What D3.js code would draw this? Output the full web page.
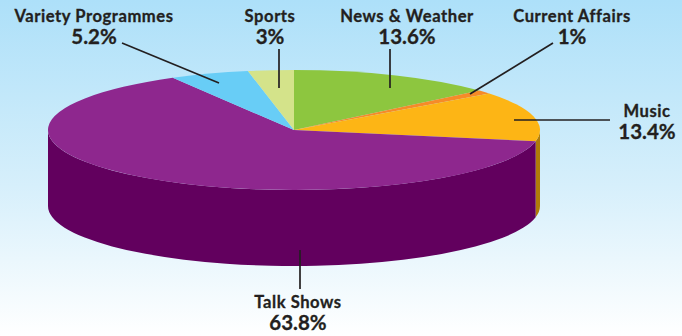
<!DOCTYPE html>
<html>
<head>
<meta charset="utf-8">
<script src="https://cdn.jsdelivr.net/npm/d3@7"></script>
<style>
html,body{margin:0;padding:0;background:#fff}
svg{display:block}
text{font-family:Lato,"Open Sans",sans-serif;fill:#231f20;text-anchor:middle;stroke:#231f20;stroke-width:.3px}
.name{font-size:16.6px;font-weight:700;letter-spacing:.55px}
.share{font-size:20.5px;font-weight:700;letter-spacing:0}
</style>
</head>
<body>
<svg id="chart" width="682" height="336"></svg>
<script>
// Programme categories and their share of airtime, clockwise from twelve o'clock
const categories = ["News & Weather", "Current Affairs", "Music", "Talk Shows", "Variety Programmes", "Sports"];
const shares = [13.6, 1, 13.4, 63.8, 5.2, 3];
const shareLabels = ["13.6%", "1%", "13.4%", "63.8%", "5.2%", "3%"];

const topColours = ["#8dc63f", "#f68b28", "#fdb515", "#8e278e", "#68cdf6", "#d4e38a"];
const wallColours = ["#5f7f22", "#a85a12", "#b07c0a", "#62005e", "#3d8fb0", "#98a55a"];

// Label centres and leader segments, one row per category
const labelX = [407, 572, 647, 298, 94, 270];
const labelY = [22, 22, 117, 308, 22, 22];
const leaders = [
  [390, 49, 390, 88],
  [553, 43, 470, 94],
  [610, 120, 514, 120],
  [300, 289, 300, 250],
  [122, 43, 219, 83],
  [279, 49, 279, 88]
];

const cx = 294, cy = 130, rx = 246, ry = 60, depth = 76;

const svg = d3.select("#chart");

const grad = svg.append("defs").append("linearGradient")
  .attr("id", "sky").attr("x1", 0).attr("x2", 0).attr("y1", 0).attr("y2", 1);
grad.append("stop").attr("offset", "0").attr("stop-color", "#ade0f9");
grad.append("stop").attr("offset", "0.55").attr("stop-color", "#d6effb");
grad.append("stop").attr("offset", "1").attr("stop-color", "#ffffff");
svg.append("rect").attr("width", 682).attr("height", 336).attr("fill", "url(#sky)");

const slices = d3.pie().sort(null).value(d => d)(shares);

// Point on the tilted rim, angle measured clockwise from the top
const rim = (a, drop = 0) => [cx + rx * Math.sin(a), cy - ry * Math.cos(a) + drop];

// Outer wall of a slice, limited to the half of the rim that faces the viewer
function wallPath(s) {
  const a0 = Math.max(s.startAngle, Math.PI / 2);
  const a1 = Math.min(s.endAngle, Math.PI * 1.5);
  if (a1 <= a0) return null;
  const [x0, y0] = rim(a0);
  const [x1, y1] = rim(a1);
  const [x2, y2] = rim(a1, depth);
  const [x3, y3] = rim(a0, depth);
  const large = a1 - a0 > Math.PI ? 1 : 0;
  return `M${x0},${y0}A${rx},${ry} 0 ${large} 1 ${x1},${y1}` +
         `L${x2},${y2}A${rx},${ry} 0 ${large} 0 ${x3},${y3}Z`;
}

svg.append("g").selectAll("path")
  .data(slices.filter(s => wallPath(s)))
  .join("path")
  .attr("d", wallPath)
  .attr("fill", s => wallColours[s.index]);

// Top face: a flat pie squashed vertically into an ellipse
const arc = d3.arc().innerRadius(0).outerRadius(rx);
svg.append("g")
  .attr("transform", `translate(${cx},${cy}) scale(1,${ry / rx})`)
  .selectAll("path")
  .data(slices)
  .join("path")
  .attr("d", arc)
  .attr("fill", s => topColours[s.index]);

svg.append("g").selectAll("line")
  .data(leaders)
  .join("line")
  .attr("x1", d => d[0]).attr("y1", d => d[1])
  .attr("x2", d => d[2]).attr("y2", d => d[3])
  .attr("stroke", "#231f20").attr("stroke-width", 1.7);

const labels = svg.append("g").selectAll("g")
  .data(categories)
  .join("g")
  .attr("transform", (d, i) => `translate(${labelX[i]},${labelY[i]})`);
labels.append("text").attr("class", "name").text(d => d);
labels.append("text").attr("class", "share").attr("y", 22).text((d, i) => shareLabels[i]);
</script>
</body>
</html>
